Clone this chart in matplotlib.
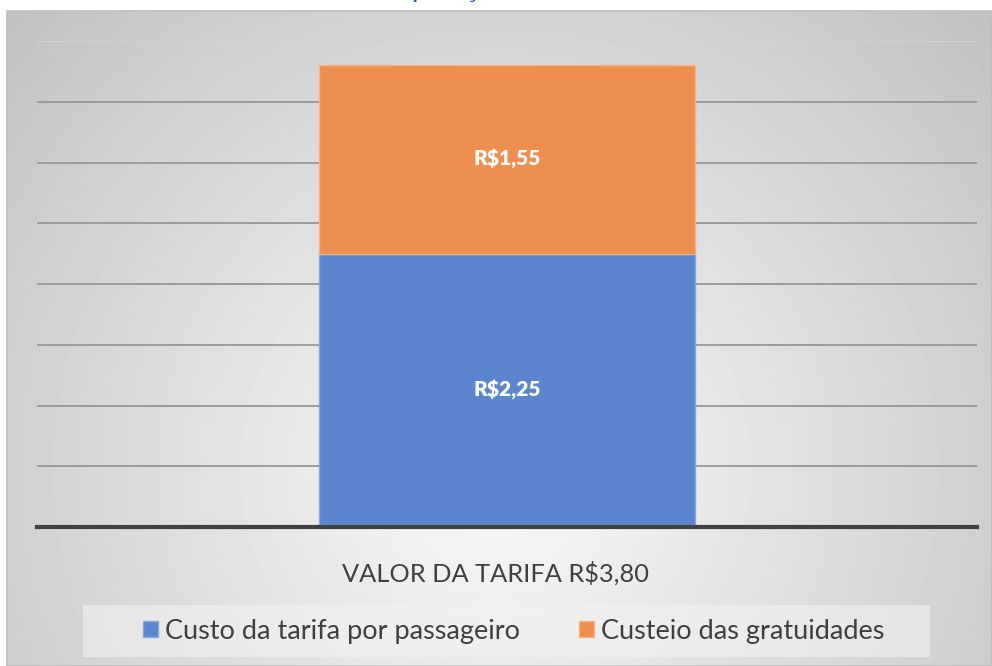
import numpy as np
import matplotlib.pyplot as plt
from matplotlib.patches import Rectangle

categorias = ["VALOR DA TARIFA R$3,80"]
series = ["Custo da tarifa por passageiro", "Custeio das gratuidades"]
custo_tarifa = [2.25]
custeio_gratuidades = [1.55]
cores = ["#5b86cf", "#ee8f4f"]
titulo = "Composição da tarifa"

plt.rcParams['font.family'] = ['Lato', 'DejaVu Sans']

W, H = 992, 666
fig = plt.figure(figsize=(W / 100, H / 100), dpi=100)
fig.patch.set_facecolor("white")

# fundo cinza com gradiente radial
bg = fig.add_axes([7 / W, 0, 1 - 7 / W, 1 - 11 / H], zorder=0)
xx, yy = np.meshgrid(np.linspace(7, W, 300), np.linspace(11, H, 200))
r = np.hypot(xx - 496, yy - 470)
val = np.clip(0.98 - 0.2 * r / 600, 0, 1)
bg.imshow(val, cmap="gray", vmin=0, vmax=1, aspect="auto",
          extent=[0, 1, 0, 1], origin="upper")
bg.set_xlim(0, 1)
bg.set_ylim(0, 1)
bg.axis("off")
bg.add_patch(Rectangle((0, 0), 1, 1, fill=False, edgecolor="#bdbdbd", lw=1.2,
                       transform=bg.transAxes, clip_on=False))

# titulo cortado no topo (so descendentes visiveis)
fig.text(0.355, 1.0 + 3 / H, titulo, color="#2f5fb3", fontsize=21,
         ha="left", va="baseline")

ax = fig.add_axes([37 / W, 1 - 527 / H, 940 / W, 486 / H], zorder=1)
ax.patch.set_alpha(0)
x = np.arange(len(categorias))
b1 = ax.bar(x, custo_tarifa, width=0.4, color=cores[0], edgecolor="#8aa8dc",
            linewidth=1, label=series[0], zorder=3)
b2 = ax.bar(x, custeio_gratuidades, width=0.4, bottom=custo_tarifa,
            color=cores[1], edgecolor="#f3b288", linewidth=1,
            label=series[1], zorder=3)

for bars in (b1, b2):
    for rect in bars:
        h = rect.get_height()
        ax.text(rect.get_x() + rect.get_width() / 2, rect.get_y() + h / 2,
                "R$" + f"{h:.2f}".replace(".", ","), ha="center", va="center",
                color="white", fontsize=15, fontweight="heavy", zorder=4)

ax.set_xlim(-0.5, 0.5)
ax.set_ylim(0, 4.0)
for y in np.arange(0.5, 4.01, 0.5):
    ax.axhline(y, color="#9c9c9c" if y < 3.9 else "#d2d2d2", lw=1.4, zorder=1)
ax.axhline(0, color="#404040", lw=3, zorder=5, clip_on=False)
for s in ax.spines.values():
    s.set_visible(False)
ax.set_xticks([])
ax.set_yticks([])

fig.text(0.5, 1 - 573 / H, categorias[0], ha="center", va="center",
         fontsize=18.3, color="#404040")

# caixa da legenda
fig.patches.append(Rectangle((83 / W, 1 - 657 / H), (930 - 83) / W, 52 / H,
                             transform=fig.transFigure, facecolor="#f2f2f2",
                             alpha=0.6, edgecolor="none", zorder=1))
leg = fig.legend(handles=[b1, b2], labels=series, loc="center",
                 bbox_to_anchor=(513.5 / W, 1 - 631 / H), ncol=2, frameon=False,
                 fontsize=19.5, handlelength=0.55, handleheight=0.55,
                 handletextpad=0.25, columnspacing=2.2,
                 labelcolor="#404040")

fig.savefig("out.png", dpi=100)
